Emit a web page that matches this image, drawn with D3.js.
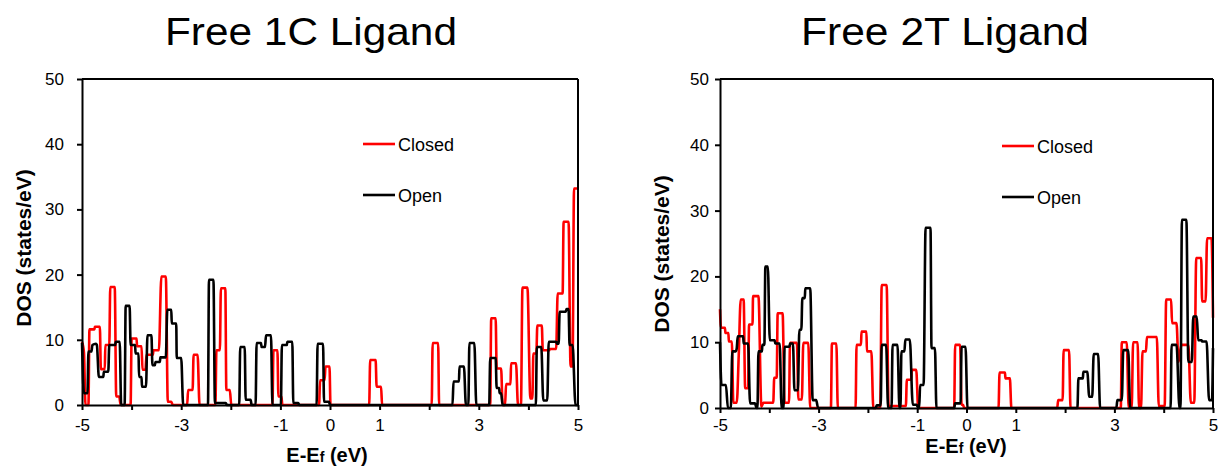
<!DOCTYPE html>
<html>
<head>
<meta charset="utf-8">
<script src="https://cdn.jsdelivr.net/npm/d3@7/dist/d3.min.js"></script>
<style>
  html, body { margin: 0; padding: 0; background: #fff; }
  svg { display: block; }
  text { font-family: "Liberation Sans", Arial, sans-serif; fill: #000; }
</style>
</head>
<body>
<svg id="chart" width="1220" height="469"></svg>
<script>
// ---------------- DATA ----------------
const energyTicks = [-5, -4, -3, -2, -1, 0, 1, 2, 3, 4, 5];
const energyLabels = [-5, -3, -1, 0, 1, 3, 5];
const dosTicks = [0, 10, 20, 30, 40, 50];
const titles = ["Free 1C Ligand", "Free 2T Ligand"];
const seriesNames = ["Closed", "Open"];
const seriesColors = ["#ff0000", "#000000"];

// Free 1C Ligand — Closed  [E-Ef (eV), DOS]
const closed1 = [
  [-5, 9.7], [-4.96, 8], [-4.93, 0], [-4.87, 0], [-4.85, 11.6], [-4.75, 11.6], [-4.74, 12.0], [-4.64, 12.0],
  [-4.62, 5.5], [-4.54, 5.5], [-4.53, 9.2], [-4.45, 9.2], [-4.43, 18.1], [-4.34, 18.1], [-4.31, 1.3], [-4.25, 1.3],
  [-4.22, 0], [-4.02, 0], [-4.0, 10.2], [-3.90, 10.2], [-3.89, 9.0], [-3.80, 9.0], [-3.78, 5.4], [-3.72, 5.4],
  [-3.70, 7.7], [-3.57, 7.7], [-3.56, 8.4], [-3.45, 8.4], [-3.40, 19.7], [-3.31, 19.7], [-3.27, 0.5], [-3.20, 0.5],
  [-3.17, 0], [-2.88, 0], [-2.86, 2.3], [-2.77, 2.3], [-2.75, 7.7], [-2.67, 7.7], [-2.63, 0], [-2.31, 0],
  [-2.29, 8.4], [-2.22, 8.4], [-2.20, 17.9], [-2.11, 17.9], [-2.09, 2.3], [-2.02, 2.3], [-1.99, 0], [-1.16, 0],
  [-1.14, 8.4], [-1.06, 8.4], [-1.04, 1.3], [-0.98, 1.3], [-0.96, 0], [-0.22, 0], [-0.20, 3.8], [-0.11, 3.8],
  [-0.09, 5.9], [-0.01, 5.9], [0.01, 0], [0.79, 0], [0.81, 6.9], [0.92, 6.9], [0.94, 2.8], [1.03, 2.8],
  [1.05, 0], [2.05, 0], [2.07, 9.5], [2.18, 9.5], [2.20, 0], [3.23, 0], [3.25, 13.3], [3.34, 13.3],
  [3.36, 5.6], [3.45, 5.6], [3.48, 0], [3.53, 0], [3.55, 3.2], [3.64, 3.2], [3.65, 6.4], [3.75, 6.4],
  [3.79, 0], [3.85, 0], [3.88, 18.0], [3.98, 18.0], [4.04, 1.0], [4.08, 1.0], [4.10, 7.9], [4.16, 7.9],
  [4.18, 12.2], [4.27, 12.2], [4.29, 8.4], [4.42, 8.4], [4.43, 8.6], [4.56, 8.6], [4.59, 17.1], [4.69, 17.1],
  [4.71, 28.1], [4.81, 28.1], [4.85, 5.9], [4.89, 5.9], [4.92, 33.2], [5, 33.2]
];

// Free 1C Ligand — Open
const open1 = [
  [-5, 9.5], [-4.98, 4], [-4.96, 1.8], [-4.89, 1.8], [-4.87, 8.2], [-4.81, 8.2], [-4.79, 9.2], [-4.72, 9.4],
  [-4.70, 9.2], [-4.66, 4.3], [-4.57, 4.3], [-4.56, 5.1], [-4.47, 5.1], [-4.45, 9.2], [-4.33, 9.2], [-4.32, 9.7],
  [-4.24, 9.7], [-4.21, 0], [-4.14, 0], [-4.12, 15.2], [-4.04, 15.2], [-4.02, 9.2], [-3.93, 9.2], [-3.92, 7.9],
  [-3.86, 7.9], [-3.85, 4.3], [-3.80, 4.3], [-3.79, 2.8], [-3.71, 2.8], [-3.68, 10.7], [-3.60, 10.7], [-3.58, 6.1],
  [-3.53, 6.1], [-3.52, 6.6], [-3.43, 6.6], [-3.42, 7.3], [-3.31, 7.3], [-3.28, 14.6], [-3.20, 14.6], [-3.19, 12.5],
  [-3.10, 12.5], [-3.09, 7.2], [-3.00, 7.2], [-2.96, 0], [-2.46, 0], [-2.44, 19.2], [-2.35, 19.2], [-2.32, 0.3],
  [-2.10, 0.3], [-2.08, 0], [-1.83, 0], [-1.81, 8.9], [-1.72, 8.9], [-1.70, 0.8], [-1.60, 0.8], [-1.58, 0],
  [-1.50, 0], [-1.48, 9.5], [-1.39, 9.5], [-1.38, 8.9], [-1.31, 8.9], [-1.29, 10.7], [-1.19, 10.7], [-1.16, 0],
  [-0.99, 0], [-0.97, 9.2], [-0.87, 9.2], [-0.86, 9.7], [-0.76, 9.7], [-0.74, 0.3], [-0.64, 0.3], [-0.62, 0],
  [-0.27, 0], [-0.25, 9.4], [-0.14, 9.4], [-0.12, 0.5], [-0.02, 0.5], [0, 0], [2.47, 0], [2.49, 3.6],
  [2.60, 3.6], [2.61, 5.9], [2.70, 5.9], [2.74, 0], [2.79, 0], [2.81, 9.5], [2.91, 9.5], [2.95, 0],
  [3.21, 0], [3.23, 7.2], [3.34, 7.2], [3.36, 2.6], [3.41, 2.6], [3.42, 1.8], [3.45, 1.8], [3.48, 0],
  [4.15, 0], [4.17, 8.9], [4.26, 8.9], [4.30, 0.7], [4.38, 0.7], [4.41, 9.7], [4.56, 9.7], [4.58, 9.4],
  [4.61, 9.4], [4.63, 14.3], [4.75, 14.3], [4.77, 14.7], [4.81, 14.7], [4.83, 9.2], [4.89, 9.2], [4.95, 0], [5, 0]
];

// Free 2T Ligand — Closed
const closed2 = [
  [-5, 15.0], [-4.98, 12.2], [-4.90, 12.2], [-4.89, 11.4], [-4.83, 11.4], [-4.82, 10.1], [-4.76, 10.1], [-4.73, 0.8],
  [-4.66, 0.8], [-4.62, 8], [-4.58, 16.5], [-4.52, 16.5], [-4.49, 3.0], [-4.43, 3.0], [-4.41, 12.7], [-4.34, 12.7],
  [-4.33, 17.0], [-4.22, 17.0], [-4.16, 0.2], [-4.12, 0.8], [-3.92, 0.8], [-3.90, 4.6], [-3.85, 4.6], [-3.83, 14.4],
  [-3.73, 14.4], [-3.69, 0.8], [-3.60, 0.8], [-3.58, 9.9], [-3.44, 9.9], [-3.41, 1.3], [-3.34, 1.3], [-3.31, 9.9],
  [-3.21, 9.9], [-3.17, 0], [-2.75, 0], [-2.73, 9.8], [-2.64, 9.8], [-2.61, 0], [-2.25, 0], [-2.23, 9.6],
  [-2.14, 9.6], [-2.13, 11.6], [-2.03, 11.6], [-2.02, 8.6], [-1.93, 8.6], [-1.89, 0], [-1.75, 0], [-1.72, 18.7],
  [-1.62, 18.7], [-1.58, 0.3], [-1.23, 0.3], [-1.21, 4.3], [-1.12, 4.3], [-1.11, 5.8], [-1.02, 5.8], [-0.98, 0],
  [-0.25, 0], [-0.23, 9.6], [-0.13, 9.6], [-0.10, 0.5], [-0.07, 0.5], [-0.05, 0], [0.65, 0], [0.67, 5.4],
  [0.78, 5.4], [0.79, 4.5], [0.88, 4.5], [0.91, 0], [1.84, 0], [1.86, 1.2], [1.95, 1.2], [1.97, 8.8],
  [2.08, 8.8], [2.11, 0], [3.13, 0], [3.15, 10.0], [3.25, 10.0], [3.29, 0], [3.35, 0], [3.38, 10.0],
  [3.47, 10.0], [3.50, 0], [3.54, 0], [3.57, 8.6], [3.64, 8.6], [3.66, 10.8], [3.86, 10.8], [3.90, 0.3],
  [4.02, 0.3], [4.05, 16.5], [4.15, 16.5], [4.17, 12.9], [4.26, 12.9], [4.30, 7.0], [4.36, 9.6], [4.50, 9.6],
  [4.55, 0.8], [4.62, 0.8], [4.66, 22.8], [4.76, 22.8], [4.78, 16.2], [4.85, 16.2], [4.88, 25.8], [4.97, 25.8], [5, 13.7]
];

// Free 2T Ligand — Open
const open2 = [
  [-5, 10.0], [-4.97, 3.5], [-4.88, 3.5], [-4.84, 0], [-4.78, 0], [-4.75, 8.6], [-4.68, 8.6], [-4.66, 9.1],
  [-4.64, 10.9], [-4.53, 10.9], [-4.52, 9.8], [-4.43, 9.8], [-4.39, 0.7], [-4.29, 0.7], [-4.26, 0], [-4.24, 0],
  [-4.22, 8.6], [-4.15, 8.6], [-4.14, 9.6], [-4.10, 9.6], [-4.08, 21.5], [-4.03, 21.5], [-3.99, 10.3], [-3.89, 10.3],
  [-3.88, 9.8], [-3.79, 9.8], [-3.75, 0], [-3.71, 0], [-3.69, 9.3], [-3.59, 9.3], [-3.58, 9.8], [-3.52, 9.8],
  [-3.49, 2.7], [-3.42, 2.7], [-3.39, 11.9], [-3.35, 11.9], [-3.33, 16.7], [-3.28, 16.7], [-3.27, 18.2], [-3.17, 18.2],
  [-3.12, 1.2], [-3.05, 1.2], [-3.01, 0], [-1.84, 0], [-1.82, 0.4], [-1.74, 0.4], [-1.72, 9.6], [-1.63, 9.6],
  [-1.59, 0], [-1.52, 0], [-1.50, 9.6], [-1.40, 9.6], [-1.36, 0], [-1.34, 0], [-1.32, 8.6], [-1.26, 8.6],
  [-1.24, 10.4], [-1.15, 10.4], [-1.09, 0.5], [-1.01, 0.5], [-0.98, 0], [-0.96, 0], [-0.94, 3.5], [-0.87, 3.5],
  [-0.83, 27.4], [-0.73, 27.4], [-0.71, 9.1], [-0.64, 9.1], [-0.61, 0], [-0.25, 0], [-0.23, 0.7], [-0.12, 0.7],
  [-0.10, 9.3], [-0.02, 9.3], [0.02, 0], [2.25, 0], [2.27, 4.5], [2.36, 4.5], [2.37, 5.5], [2.45, 5.5],
  [2.49, 1.7], [2.55, 1.7], [2.58, 8.2], [2.67, 8.2], [2.71, 0], [3.04, 0], [3.06, 1.2], [3.15, 1.2],
  [3.18, 8.8], [3.28, 8.8], [3.32, 0], [4.14, 0], [4.16, 9.6], [4.26, 9.6], [4.32, 0], [4.34, 0],
  [4.37, 28.6], [4.46, 28.6], [4.50, 7.0], [4.57, 7.0], [4.60, 13.9], [4.67, 13.9], [4.70, 10.3], [4.77, 10.3],
  [4.78, 10.1], [4.87, 10.1], [4.92, 1.2], [4.98, 1.2], [5, 9.1]
];

// ---------------- LAYOUT ----------------
const panels = [
  { title: titles[0], series: [closed1, open1], x0: 82, x1: 578, yTop: 79, yBot: 405,
    titleX: 311, titleLen: 292, yLabPad: 13, xLabPad: 9, yTitleX: 23, yTitleY: 248,
    xTitleX: 327, xTitleY: 462, legX: 363, legY: 144 },
  { title: titles[1], series: [closed2, open2], x0: 720, x1: 1213, yTop: 79, yBot: 408,
    titleX: 945, titleLen: 288, yLabPad: 6, xLabPad: 6, yTitleX: 661, yTitleY: 254,
    xTitleX: 966, xTitleY: 453, legX: 1002, legY: 146 }
];

const svg = d3.select("#chart");

panels.forEach(p => {
  const x = d3.scaleLinear().domain([-5, 5]).range([p.x0, p.x1]);
  const y = d3.scaleLinear().domain([0, 50]).range([p.yBot, p.yTop]);
  const g = svg.append("g");

  // Title
  g.append("text")
    .attr("x", p.titleX).attr("y", 45)
    .attr("text-anchor", "middle")
    .attr("font-size", 39)
    .attr("textLength", p.titleLen)
    .attr("lengthAdjust", "spacingAndGlyphs")
    .text(p.title);

  // Lines
  const line = d3.line()
    .x(d => x(d[0]))
    .y(d => y(d[1]))
    .curve(d3.curveMonotoneX);

  p.series.forEach((s, i) => {
    g.append("path")
      .datum(s)
      .attr("d", line)
      .attr("fill", "none")
      .attr("stroke", seriesColors[i])
      .attr("stroke-width", 2.6)
      .attr("stroke-linejoin", "round");
  });

  // Frame: top & right borders
  g.append("line")
    .attr("x1", x(-5)).attr("x2", x(5)).attr("y1", y(50)).attr("y2", y(50))
    .attr("stroke", "#000").attr("stroke-width", 2);
  g.append("line")
    .attr("x1", x(5)).attr("x2", x(5)).attr("y1", y(50)).attr("y2", y(0))
    .attr("stroke", "#000").attr("stroke-width", 2);

  // X axis
  const xAxis = d3.axisBottom(x)
    .tickValues(energyTicks)
    .tickSize(5).tickSizeOuter(0)
    .tickPadding(p.xLabPad)
    .tickFormat(d => energyLabels.includes(d) ? String(d) : "");
  const gx = g.append("g").attr("transform", `translate(0,${p.yBot})`).call(xAxis);
  gx.select(".domain").attr("stroke-width", 2);
  gx.selectAll(".tick line").attr("stroke-width", 2);
  gx.selectAll(".tick text").attr("font-size", 17).attr("font-family", "Liberation Sans, Arial, sans-serif");

  // Y axis
  const yAxis = d3.axisLeft(y)
    .tickValues(dosTicks)
    .tickSize(5).tickSizeOuter(0)
    .tickPadding(p.yLabPad)
    .tickFormat(d => String(d));
  const gy = g.append("g").attr("transform", `translate(${p.x0},0)`).call(yAxis);
  gy.select(".domain").attr("stroke-width", 2);
  gy.selectAll(".tick line").attr("stroke-width", 2);
  gy.selectAll(".tick text").attr("font-size", 17).attr("font-family", "Liberation Sans, Arial, sans-serif");

  // Axis titles
  g.append("text")
    .attr("transform", `translate(${p.yTitleX},${p.yTitleY}) rotate(-90)`)
    .attr("text-anchor", "middle")
    .attr("dominant-baseline", "central")
    .attr("font-size", 21).attr("font-weight", "bold")
    .text("DOS (states/eV)");

  const xt = g.append("text")
    .attr("x", p.xTitleX).attr("y", p.xTitleY)
    .attr("text-anchor", "middle")
    .attr("font-size", 20).attr("font-weight", "bold");
  xt.append("tspan").text("E-E");
  xt.append("tspan").attr("font-size", 14).text("f");
  xt.append("tspan").text(" (eV)");

  // Legend
  seriesNames.forEach((name, i) => {
    const ly = p.legY + i * 51;
    g.append("line")
      .attr("x1", p.legX).attr("x2", p.legX + 32)
      .attr("y1", ly).attr("y2", ly)
      .attr("stroke", seriesColors[i]).attr("stroke-width", 2.6);
    g.append("text")
      .attr("x", p.legX + 35).attr("y", ly + 6.5)
      .attr("font-size", 18)
      .text(name);
  });
});
</script>
</body>
</html>
